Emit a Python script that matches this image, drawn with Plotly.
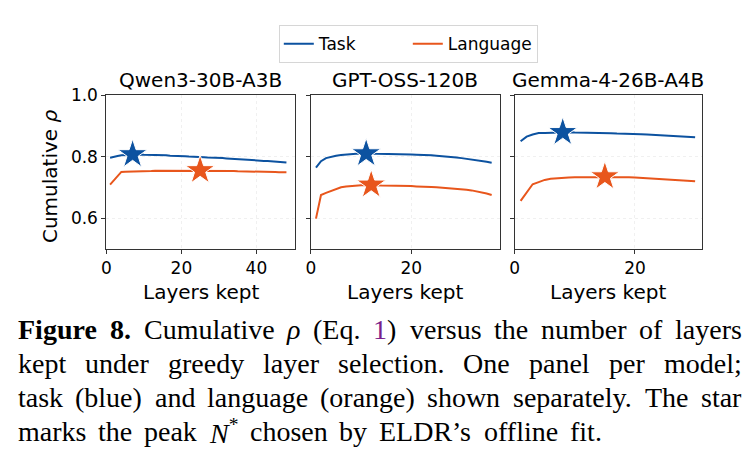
import plotly.graph_objects as go

# ---------------- data ----------------
models = ["Qwen3-30B-A3B", "GPT-OSS-120B", "Gemma-4-26B-A4B"]
series_names = ["Task", "Language"]

qwen_task = [0.796, 0.800, 0.802, 0.804, 0.805, 0.806, 0.807, 0.807, 0.807, 0.806,
             0.806, 0.806, 0.805, 0.805, 0.804, 0.804, 0.803, 0.803, 0.802, 0.802,
             0.801, 0.800, 0.800, 0.799, 0.799, 0.798, 0.797, 0.797, 0.796, 0.795,
             0.795, 0.794, 0.793, 0.793, 0.792, 0.791, 0.790, 0.790, 0.789, 0.788,
             0.787, 0.786, 0.786, 0.785, 0.784, 0.783, 0.782, 0.781]
qwen_lang = [0.709, 0.722, 0.737, 0.750, 0.751, 0.751, 0.752, 0.752, 0.752, 0.753,
             0.753, 0.753, 0.754, 0.754, 0.754, 0.754, 0.754, 0.754, 0.754, 0.754,
             0.754, 0.754, 0.754, 0.754, 0.755, 0.754, 0.754, 0.754, 0.754, 0.753,
             0.753, 0.753, 0.753, 0.753, 0.752, 0.752, 0.752, 0.752, 0.751, 0.751,
             0.751, 0.751, 0.750, 0.750, 0.750, 0.749, 0.749, 0.749]

gpt_task = [0.764, 0.785, 0.795, 0.800, 0.803, 0.805, 0.807, 0.808, 0.809, 0.809,
            0.810, 0.810, 0.809, 0.809, 0.809, 0.808, 0.808, 0.808, 0.807, 0.807,
            0.806, 0.806, 0.805, 0.804, 0.803, 0.802, 0.800, 0.799, 0.797, 0.795,
            0.793, 0.791, 0.789, 0.786, 0.783, 0.780]
gpt_lang = [0.598, 0.675, 0.682, 0.688, 0.695, 0.700, 0.703, 0.705, 0.706, 0.707,
            0.707, 0.708, 0.707, 0.706, 0.706, 0.705, 0.705, 0.704, 0.704, 0.704,
            0.703, 0.703, 0.702, 0.701, 0.700, 0.699, 0.698, 0.697, 0.695, 0.694,
            0.692, 0.690, 0.687, 0.684, 0.680, 0.675]

gemma_task = [0.850, 0.865, 0.872, 0.877, 0.877, 0.878, 0.878, 0.879, 0.879, 0.878,
              0.878, 0.878, 0.877, 0.877, 0.876, 0.876, 0.875, 0.875, 0.874, 0.873,
              0.873, 0.872, 0.871, 0.870, 0.869, 0.868, 0.867, 0.866, 0.865, 0.863]
gemma_lang = [0.656, 0.685, 0.710, 0.717, 0.724, 0.728, 0.730, 0.731, 0.732, 0.733,
              0.733, 0.734, 0.734, 0.734, 0.735, 0.734, 0.734, 0.733, 0.733, 0.732,
              0.731, 0.730, 0.729, 0.728, 0.727, 0.726, 0.725, 0.724, 0.722, 0.720]

task_values = [qwen_task, gpt_task, gemma_task]
lang_values = [qwen_lang, gpt_lang, gemma_lang]
task_peak_layer = [7, 11, 8]     # N* for task
lang_peak_layer = [25, 12, 15]   # N* for language

x_ranges = [[0, 50.3], [0, 37.6], [0, 31.2]]
x_tickvals = [[0, 20, 40], [0, 20], [0, 20]]
y_tickvals = [0.6, 0.8, 1.0]
y_ticktext = ["0.6", "0.8", "1.0"]

# caption: (markup, plain text, style) per word; style r=regular b=bold i=italic
PURPLE = "#7a1f8c"
caption_lines = [
    [("<b>Figure</b>", "Figure", "b"), ("<b>8.</b>", "8.", "b"), ("Cumulative", "Cumulative", "r"),
     ("<i>ρ</i>", "ρ", "i"), ("(Eq.", "(Eq.", "r"),
     (f"<span style='color:{PURPLE}'>1</span>)", "1)", "r"), ("versus", "versus", "r"),
     ("the", "the", "r"), ("number", "number", "r"), ("of", "of", "r"), ("layers", "layers", "r")],
    [("kept", "kept", "r"), ("under", "under", "r"), ("greedy", "greedy", "r"), ("layer", "layer", "r"),
     ("selection.", "selection.", "r"), ("One", "One", "r"), ("panel", "panel", "r"),
     ("per", "per", "r"), ("model;", "model;", "r")],
    [("task", "task", "r"), ("(blue)", "(blue)", "r"), ("and", "and", "r"),
     ("language", "language", "r"), ("(orange)", "(orange)", "r"), ("shown", "shown", "r"),
     ("separately.", "separately.", "r"), ("The", "The", "r"), ("star", "star", "r")],
    [("marks", "marks", "r"), ("the", "the", "r"), ("peak", "peak", "r"),
     ("<i>N</i><sup>*</sup>", "N*", "i"), ("chosen", "chosen", "r"), ("by", "by", "r"),
     ("ELDR’s", "ELDR’s", "r"), ("offline", "offline", "r"), ("fit.", "fit.", "r")],
]
caption_line_width = [728, 728, 728, 588]

# ---------------- style ----------------
W, H = 754, 466
BLUE = "#0c52a0"
ORANGE = "#e8561c"
FONT = "DejaVu Sans"
SERIF = "Liberation Serif"
CAP_SIZE = 28
panel_px = [(102, 292), (308, 498), (513, 702)]
top_px, bottom_px = 87, 244

# approximate Times-compatible advance widths (per 1000 em) for layout of justified caption
W_REG = {' ': 250, '(': 333, ')': 333, '.': 250, ';': 278, '’': 333, '1': 500, '8': 500, '*': 350,
         'a': 444, 'b': 500, 'c': 444, 'd': 500, 'e': 444, 'f': 333, 'g': 500, 'h': 500, 'i': 278,
         'k': 500, 'l': 278, 'm': 778, 'n': 500, 'o': 500, 'p': 500, 'r': 333, 's': 389, 't': 278,
         'u': 500, 'v': 500, 'w': 722, 'y': 500, 'C': 667, 'D': 722, 'E': 611, 'L': 611, 'N': 667,
         'O': 722, 'R': 667, 'T': 611, 'ρ': 500}
W_BOLD = {'F': 611, 'i': 278, 'g': 500, 'u': 556, 'r': 444, 'e': 444, '8': 500, '.': 250}


def text_w(s, style, size):
    tbl = W_BOLD if style == "b" else W_REG
    return sum(tbl.get(c, W_REG.get(c, 500)) for c in s) * size / 1000.0


fig = go.Figure()

for i in range(3):
    xa = "x" if i == 0 else f"x{i+1}"
    ya = "y" if i == 0 else f"y{i+1}"
    layers = list(range(1, len(task_values[i]) + 1))
    fig.add_trace(go.Scatter(x=layers, y=task_values[i], mode="lines",
                             line=dict(color=BLUE, width=2), name=series_names[0],
                             showlegend=(i == 0), legendgroup="t", xaxis=xa, yaxis=ya))
    fig.add_trace(go.Scatter(x=layers, y=lang_values[i], mode="lines",
                             line=dict(color=ORANGE, width=2), name=series_names[1],
                             showlegend=(i == 0), legendgroup="l", xaxis=xa, yaxis=ya))
    tp = task_peak_layer[i]
    lp = lang_peak_layer[i]
    fig.add_trace(go.Scatter(x=[tp], y=[task_values[i][tp - 1]], mode="markers",
                             marker=dict(symbol="star", size=22, color=BLUE,
                                         line=dict(color="white", width=1)),
                             showlegend=False, xaxis=xa, yaxis=ya))
    fig.add_trace(go.Scatter(x=[lp], y=[lang_values[i][lp - 1]], mode="markers",
                             marker=dict(symbol="star", size=22, color=ORANGE,
                                         line=dict(color="white", width=1)),
                             showlegend=False, xaxis=xa, yaxis=ya))

layout = dict(
    width=W, height=H,
    margin=dict(l=0, r=0, t=0, b=0),
    paper_bgcolor="white", plot_bgcolor="white",
    font=dict(family=FONT, size=17, color="black"),
    showlegend=True,
    legend=dict(orientation="h", x=406 / W, xanchor="center", y=1 - 35 / H, yanchor="middle",
                bordercolor="#d6d6d6", borderwidth=1, font=dict(size=17),
                entrywidth=84, entrywidthmode="pixels", tracegroupgap=0),
)
for i in range(3):
    l, r = panel_px[i]
    xk = "xaxis" if i == 0 else f"xaxis{i+1}"
    yk = "yaxis" if i == 0 else f"yaxis{i+1}"
    ya = "y" if i == 0 else f"y{i+1}"
    xa = "x" if i == 0 else f"x{i+1}"
    layout[xk] = dict(domain=[l / W, r / W], range=x_ranges[i], anchor=ya,
                      tickvals=x_tickvals[i], ticks="outside", ticklen=4, tickcolor="#333",
                      showline=True, linecolor="#333", linewidth=1, mirror=True,
                      showgrid=True, gridcolor="#f0f0f0", griddash="dot", gridwidth=1,
                      zeroline=False, tickfont=dict(size=17))
    layout[yk] = dict(domain=[1 - bottom_px / H, 1 - top_px / H], range=[0.5, 1.0], anchor=xa,
                      tickvals=y_tickvals, ticktext=y_ticktext, ticks="outside", ticklen=4,
                      tickcolor="#333", showticklabels=(i == 0),
                      showline=True, linecolor="#333", linewidth=1, mirror=True,
                      showgrid=True, gridcolor="#f0f0f0", griddash="dot", gridwidth=1,
                      zeroline=False, tickfont=dict(size=17))
fig.update_layout(**layout)

ann = []
for i in range(3):
    l, r = panel_px[i]
    ann.append(dict(text=models[i], x=(l + r) / 2 / W, y=1 - 72 / H, xref="paper", yref="paper",
                    showarrow=False, xanchor="center", yanchor="middle",
                    font=dict(family=FONT, size=20)))
    ann.append(dict(text="Layers kept", x=(l + r) / 2 / W, y=1 - 288 / H, xref="paper", yref="paper",
                    showarrow=False, xanchor="center", yanchor="middle",
                    font=dict(family=FONT, size=20)))
ann.append(dict(text="Cumulative <i>ρ</i>", x=46 / W, y=1 - 170 / H, xref="paper", yref="paper",
                showarrow=False, textangle=-90, xanchor="center", yanchor="middle",
                font=dict(family=FONT, size=20)))

# justified caption: words spread across the line width
x0 = 12
line_centres = [327, 361, 396, 431]
for k, words in enumerate(caption_lines):
    widths = [text_w(p, st, CAP_SIZE) for _, p, st in words]
    gap = (caption_line_width[k] - sum(widths)) / (len(words) - 1)
    xpos = x0
    for (markup, plain, st), w in zip(words, widths):
        ann.append(dict(text=markup, x=xpos / W, y=1 - line_centres[k] / H, xref="paper", yref="paper",
                        showarrow=False, xanchor="left", yanchor="middle", borderpad=0,
                        font=dict(family=SERIF, size=CAP_SIZE, color="black")))
        xpos += w + gap
fig.update_layout(annotations=ann)

fig.write_html("out.html")
